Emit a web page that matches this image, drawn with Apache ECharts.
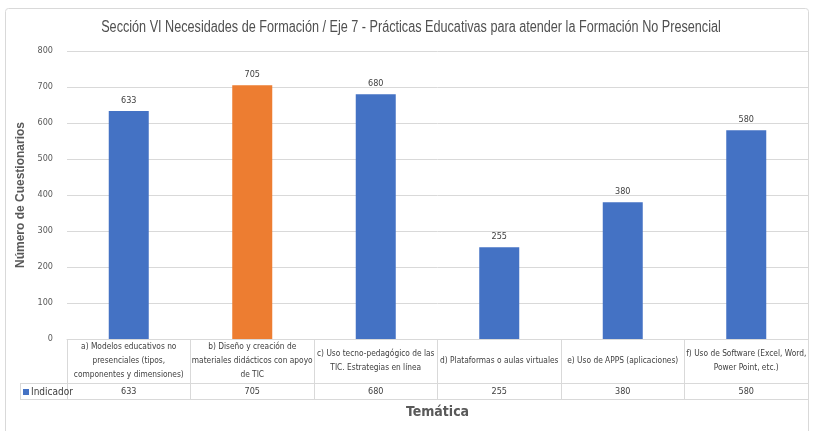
<!DOCTYPE html>
<html>
<head>
<meta charset="utf-8">
<script src="https://cdn.jsdelivr.net/npm/echarts@6/dist/echarts.min.js"></script>
<style>
  html, body { margin: 0; padding: 0; background: #fff; overflow: hidden; }
  #chart { width: 813px; height: 431px; }
</style>
</head>
<body>
<div id="chart"></div>
<script>
// data
const categories = [
  'a) Modelos educativos no\npresenciales (tipos,\ncomponentes y dimensiones)',
  'b) Diseño y creación de\nmateriales didácticos con apoyo\nde TIC',
  'c) Uso tecno-pedagógico de las\nTIC. Estrategias en línea',
  'd) Plataformas o aulas virtuales',
  'e) Uso de APPS (aplicaciones)',
  'f) Uso de Software (Excel, Word,\nPower Point, etc.)'
]
const values = [633, 705, 680, 255, 380, 580]
const highlightIndex = 1
const yTicks = { min: 0, max: 800, interval: 100 }

const FONT = '"DejaVu Sans Condensed", "Liberation Sans", sans-serif'
const GREY = '#595959'
const LINE = '#d9d9d9'
const BLUE = '#4472C4'
const ORANGE = '#ED7D31'

const chart = echarts.init(document.getElementById('chart'))

const option = {
  animation: false,
  textStyle: { fontFamily: FONT },
  legend: {
    data: ['Indicador'],
    left: 18,
    top: 382,
    itemWidth: 6,
    itemHeight: 6,
    itemGap: 2,
    icon: 'rect',
    textStyle: { fontFamily: FONT, fontSize: 10, color: '#404040', padding: [0, 0, 0, -3] }
  },
  grid: { left: 67, right: 5, top: 51, bottom: 92, containLabel: false, outerBoundsMode: 'none' },
  xAxis: [
    {
      type: 'category',
      data: categories,
      axisLine: { lineStyle: { color: LINE } },
      axisTick: { show: true, interval: 0, length: 60, lineStyle: { color: LINE } },
      axisLabel: {
        interval: 0,
        margin: 22,
        verticalAlign: 'middle',
        fontSize: 8.3,
        lineHeight: 14,
        color: '#404040',
        hideOverlap: false
      }
    },
    {
      type: 'category',
      data: categories,
      position: 'bottom',
      offset: 44,
      axisLine: { lineStyle: { color: LINE } },
      axisTick: { show: false },
      axisLabel: {
        interval: 0,
        margin: 4,
        fontSize: 9,
        color: '#404040',
        formatter: (v, i) => String(values[i])
      },
      name: 'Temática',
      nameLocation: 'middle',
      nameGap: 29,
      nameTextStyle: { fontFamily: FONT, fontSize: 14, fontWeight: 'bold', color: GREY, verticalAlign: 'middle' }
    }
  ],
  yAxis: {
    type: 'value',
    min: yTicks.min,
    max: yTicks.max,
    interval: yTicks.interval,
    axisLine: { show: false },
    axisTick: { show: false },
    splitLine: { lineStyle: { color: LINE } },
    axisLabel: { margin: 14, fontSize: 9, color: GREY },
    name: 'Número de Cuestionarios',
    nameLocation: 'middle',
    nameGap: 39,
    nameTextStyle: { fontFamily: '"Liberation Sans", sans-serif', fontSize: 12, fontWeight: 'bold', color: GREY }
  },
  series: [
    {
      name: 'Indicador',
      type: 'bar',
      barWidth: 40,
      itemStyle: { color: BLUE },
      data: values.map((v, i) => ({
        value: v,
        itemStyle: { color: i === highlightIndex ? ORANGE : BLUE }
      })),
      label: { show: true, position: 'top', distance: 6, fontSize: 9, color: '#404040' }
    }
  ],
  graphic: [
    // outer chart frame
    { type: 'rect', shape: { x: 5.5, y: 8.5, width: 803, height: 430, r: 3 }, style: { fill: 'none', stroke: '#d9d9d9', lineWidth: 1 }, silent: true },
    // title, narrowed to look like the condensed original face
    {
      type: 'text', x: 411, y: 28, scaleX: 0.79,
      style: {
        text: 'Sección VI Necesidades de Formación / Eje 7 - Prácticas Educativas para atender la Formación No Presencial',
        font: '16px "Liberation Sans", sans-serif',
        fill: '#505050', align: 'center', verticalAlign: 'middle'
      }
    },
    // data table: legend cell
    { type: 'line', shape: { x1: 20, y1: 383.5, x2: 67, y2: 383.5 }, style: { stroke: LINE } },
    { type: 'line', shape: { x1: 20, y1: 399.5, x2: 808, y2: 399.5 }, style: { stroke: LINE } },
    { type: 'line', shape: { x1: 20.5, y1: 383, x2: 20.5, y2: 400 }, style: { stroke: LINE } }
  ]
}

chart.setOption(option)
</script>
</body>
</html>
